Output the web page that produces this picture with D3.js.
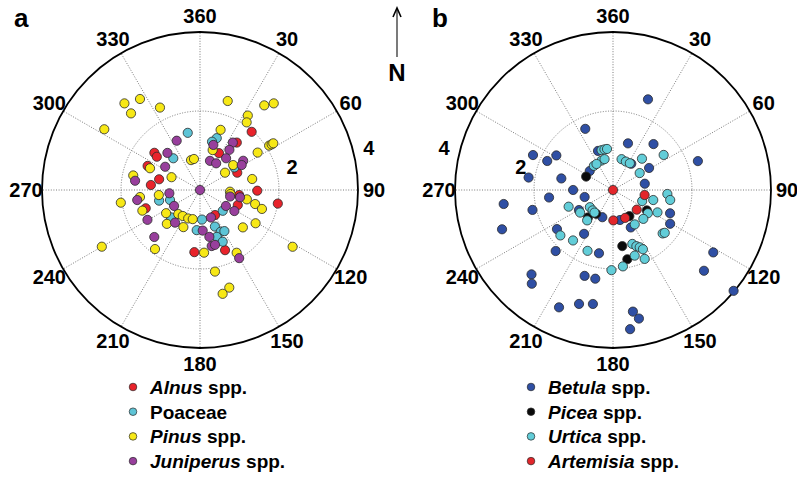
<!DOCTYPE html>
<html>
<head>
<meta charset="utf-8">
<script src="https://cdn.jsdelivr.net/npm/d3@7/dist/d3.min.js"></script>
<style>
  html, body { margin: 0; padding: 0; background: #fff; }
  svg { display: block; }
  text { font-family: "Liberation Sans", Arial, sans-serif; font-weight: bold; fill: #000; }
</style>
</head>
<body>
<svg id="chart" width="797" height="491"></svg>
<script>
// Direction (degrees clockwise from north) and value for each sample, per taxon.
const alnus = [
  [309.2, 1.49], [307.6, 1.38], [294.7, 1.46], [284.7, 1.07], [275.8, 1.25], [251.4, 1.45],
  [185.2, 1.58], [157.4, 1.65], [149.0, 0.74], [111.7, 1.03], [97.3, 1.00], [90.7, 1.45],
  [99.9, 2.00], [65.1, 1.04], [27.2, 1.05], [37.8, 1.52], [41.6, 1.97]
];
const poaceae = [
  [347.9, 1.48], [319.9, 1.05], [17.9, 1.38], [14.0, 1.26], [56.7, 1.04], [255.4, 1.07],
  [251.6, 0.80], [226.7, 1.01], [184.7, 1.02], [176.1, 0.75], [132.4, 0.78], [157.8, 1.00],
  [153.6, 1.18], [149.3, 1.21], [160.3, 1.26], [156.3, 1.43]
];
const pinus = [
  [318.9, 2.91], [326.6, 2.76], [318.0, 2.61], [334.1, 2.32], [302.4, 2.87], [343.3, 0.79],
  [349.0, 0.80], [293.5, 1.38], [294.2, 0.79], [282.3, 1.73], [17.3, 2.36], [37.2, 2.69],
  [40.4, 2.88], [32.7, 2.24], [34.6, 2.08], [18.9, 1.61], [17.6, 1.06], [57.3, 2.08],
  [57.5, 2.15], [57.5, 2.20], [57.0, 1.74], [53.1, 1.05], [55.3, 0.77], [78.1, 1.35],
  [93.2, 0.76], [97.5, 0.78], [101.3, 1.21], [104.3, 1.44], [107.0, 1.64], [120.9, 1.64],
  [131.1, 1.44], [121.5, 2.75], [149.7, 1.84], [169.6, 2.10], [163.3, 2.58], [167.7, 2.69],
  [176.3, 1.59], [217.3, 1.88], [240.0, 2.87], [260.9, 2.03], [250.3, 1.55], [263.3, 1.53],
  [263.0, 1.05], [235.6, 1.04], [224.4, 1.20], [204.1, 1.03], [222.1, 0.82], [213.6, 0.79],
  [202.5, 0.78], [194.0, 0.76]
];
const juniperus = [
  [0, 0], [334.7, 1.38], [318.7, 1.25], [303.7, 1.06], [278.1, 1.66], [16.5, 1.19],
  [34.7, 1.46], [36.2, 1.26], [39.4, 1.04], [18.9, 0.78], [31.2, 0.79], [55.9, 1.32],
  [59.1, 1.23], [102.2, 0.78], [100.3, 1.03], [121.6, 0.77], [121.5, 1.02], [158.3, 0.75],
  [176.2, 1.03], [168.7, 1.21], [168.2, 1.45], [164.7, 1.44], [150.1, 1.99], [260.9, 1.61],
  [240.4, 1.53], [224.2, 1.66], [263.9, 0.78], [238.4, 0.77], [217.4, 1.04]
];

const betula = [
  [335.6, 1.70], [293.6, 2.21], [293.8, 1.82], [301.4, 1.68], [278.4, 2.16], [282.6, 1.34],
  [270.0, 1.01], [339.0, 1.06], [309.2, 0.76], [21.1, 2.46], [17.8, 1.24], [41.4, 1.55],
  [71.2, 2.27], [34.8, 0.81], [58.6, 1.07], [78.8, 0.82], [262.7, 2.79], [256.1, 2.10],
  [263.3, 1.63], [256.1, 0.74], [239.5, 1.00], [201.4, 0.74], [250.5, 2.98], [235.1, 1.73],
  [213.4, 1.33], [223.2, 2.12], [192.5, 1.64], [224.0, 2.97], [220.9, 3.14], [198.3, 2.29],
  [191.3, 2.29], [204.7, 3.27], [196.6, 3.01], [190.0, 2.93], [112.2, 1.56], [120.6, 1.68],
  [154.6, 1.05], [121.9, 2.99], [131.6, 3.08], [129.9, 3.98], [170.7, 3.12], [168.6, 3.32],
  [173.0, 3.55], [166.9, 0.78]
];
const picea = [
  [296.5, 0.76], [215.3, 0.74], [222.3, 0.94], [147.9, 0.78], [121.1, 1.00], [170.6, 1.44],
  [168.3, 1.79]
];
const urtica = [
  [344.0, 1.05], [348.1, 1.05], [351.7, 1.05], [338.7, 0.80], [344.7, 0.81], [321.6, 0.78],
  [327.6, 0.78], [55.3, 1.56], [15.5, 0.81], [24.3, 0.79], [32.2, 0.80], [42.8, 1.08],
  [57.6, 0.80], [110.8, 0.79], [104.0, 1.05], [94.2, 1.38], [99.9, 1.47], [123.7, 1.06],
  [116.7, 1.26], [133.6, 1.06], [147.7, 1.03], [131.2, 1.67], [129.6, 1.70], [160.3, 1.45],
  [157.4, 1.54], [155.0, 1.60], [153.2, 1.68], [161.7, 1.75], [155.3, 1.92], [172.6, 1.95],
  [181.1, 2.03], [202.7, 1.67], [218.4, 1.63], [229.2, 1.76], [249.4, 1.20], [235.5, 1.01],
  [233.4, 0.73], [225.0, 0.73], [219.4, 0.74], [220.4, 1.01]
];
const artemisia = [
  [0, 0], [99.0, 0.81], [129.6, 0.78], [156.5, 0.77], [179.4, 0.77]
];

const angleTicks = [360, 30, 60, 90, 120, 150, 180, 210, 240, 270, 300, 330];
const radiusTicks = [2, 4];

const panels = [
  {
    id: "a", cx: 200, label: "a", labelX: 14, rLabelAngle: 76,
    series: [
      { name: "Alnus", suffix: " spp.", italic: true, data: alnus, color: "#e8232b" },
      { name: "Poaceae", suffix: "", italic: false, data: poaceae, color: "#5ec4d6" },
      { name: "Pinus", suffix: " spp.", italic: true, data: pinus, color: "#f7e816" },
      { name: "Juniperus", suffix: " spp.", italic: true, data: juniperus, color: "#983f9c" }
    ],
    legendX: 133
  },
  {
    id: "b", cx: 613, label: "b", labelX: 432, rLabelAngle: 284,
    series: [
      { name: "Betula", suffix: " spp.", italic: true, data: betula, color: "#2f4fa4" },
      { name: "Picea", suffix: " spp.", italic: true, data: picea, color: "#0a0a0a" },
      { name: "Urtica", suffix: " spp.", italic: true, data: urtica, color: "#62cdd8" },
      { name: "Artemisia", suffix: " spp.", italic: true, data: artemisia, color: "#e2262b" }
    ],
    legendX: 531
  }
];

const svg = d3.select("#chart");
const cy = 190;
const outerR = 158;
const rScale = d3.scaleLinear().domain([0, 4]).range([0, outerR]);
const aScale = d3.scaleLinear().domain([0, 360]).range([0, 2 * Math.PI]);

panels.forEach(p => {
  const g = svg.append("g").attr("transform", `translate(${p.cx},${cy})`);

  // spokes every 30 degrees
  g.selectAll("line.spoke").data(angleTicks).join("line")
    .attr("class", "spoke")
    .attr("x1", 0).attr("y1", 0)
    .attr("x2", d => d3.pointRadial(aScale(d), outerR)[0])
    .attr("y2", d => d3.pointRadial(aScale(d), outerR)[1])
    .attr("stroke", "#7a7a7a").attr("stroke-width", 1)
    .attr("stroke-dasharray", "1,1.6");

  // inner range ring
  g.append("circle").attr("r", rScale(2))
    .attr("fill", "none").attr("stroke", "#7a7a7a").attr("stroke-width", 1)
    .attr("stroke-dasharray", "1,1.6");

  // outer ring
  g.append("circle").attr("r", outerR)
    .attr("fill", "none").attr("stroke", "#000").attr("stroke-width", 1.8);

  // angle labels
  g.selectAll("text.ang").data(angleTicks).join("text")
    .attr("class", "ang")
    .attr("x", d => d3.pointRadial(aScale(d), outerR + 16)[0])
    .attr("y", d => d3.pointRadial(aScale(d), outerR + 16)[1])
    .attr("text-anchor", "middle").attr("dominant-baseline", "central")
    .style("font-size", "20px")
    .text(d => d);

  // radius labels
  g.selectAll("text.rad").data(radiusTicks).join("text")
    .attr("class", "rad")
    .attr("x", d => d3.pointRadial(aScale(p.rLabelAngle), rScale(d) + 16)[0])
    .attr("y", d => d3.pointRadial(aScale(p.rLabelAngle), rScale(d) + 16)[1])
    .attr("text-anchor", "middle").attr("dominant-baseline", "central")
    .style("font-size", "20px")
    .text(d => d);

  // samples
  p.series.forEach(s => {
    g.append("g").selectAll("circle").data(s.data).join("circle")
      .attr("cx", d => d3.pointRadial(aScale(d[0]), rScale(d[1]))[0])
      .attr("cy", d => d3.pointRadial(aScale(d[0]), rScale(d[1]))[1])
      .attr("r", 4.6)
      .attr("fill", s.color)
      .attr("stroke", "#2a2a2a").attr("stroke-width", 0.8);
  });

  // panel letter
  svg.append("text").attr("x", p.labelX).attr("y", 27)
    .style("font-size", "26px").text(p.label);

  // legend
  const lg = svg.append("g");
  p.series.forEach((s, i) => {
    const y = 387 + i * 24.7;
    lg.append("circle").attr("cx", p.legendX).attr("cy", y).attr("r", 3.8)
      .attr("fill", s.color).attr("stroke", "#2a2a2a").attr("stroke-width", 0.7);
    const t = lg.append("text").attr("x", p.legendX + 17).attr("y", y)
      .attr("dominant-baseline", "central").style("font-size", "19px");
    t.append("tspan").style("font-style", s.italic ? "italic" : "normal").text(s.name);
    t.append("tspan").text(s.suffix);
  });
});

// north arrow
const nx = 397;
svg.append("line").attr("x1", nx).attr("y1", 9).attr("x2", nx).attr("y2", 57)
  .attr("stroke", "#333").attr("stroke-width", 1.3);
svg.append("path").attr("d", `M${nx - 4},${17} L${nx},${8} L${nx + 4},${17}`)
  .attr("fill", "none").attr("stroke", "#000").attr("stroke-width", 1.6);
svg.append("text").attr("x", nx).attr("y", 72)
  .attr("text-anchor", "middle").attr("dominant-baseline", "central")
  .style("font-size", "24px").text("N");
</script>
</body>
</html>
